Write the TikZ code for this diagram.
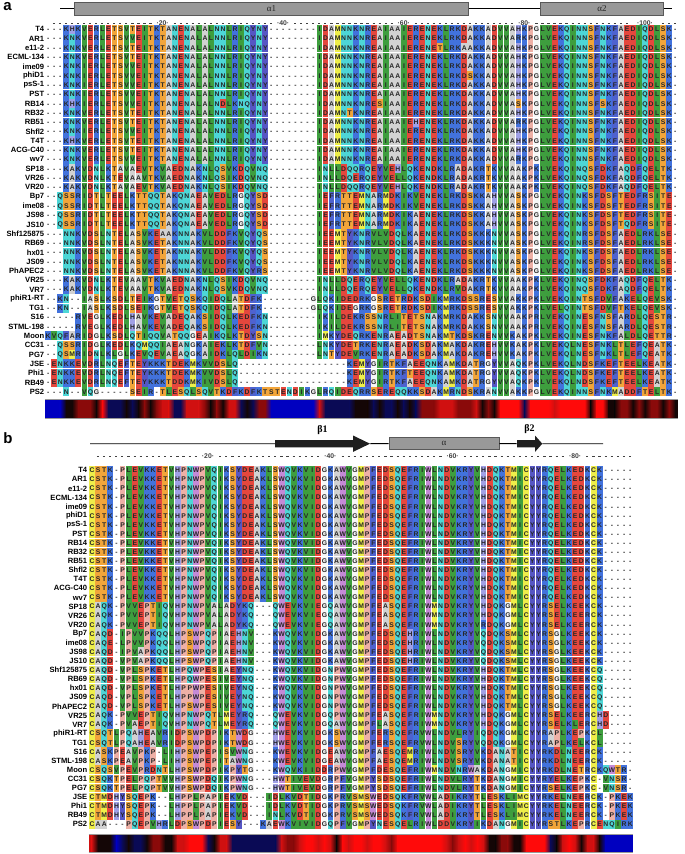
\documentclass[tikz,border=0pt]{standalone}
\usepackage{fontspec}
\setmainfont{Liberation Sans}
\newfontfamily\grkfont{Liberation Serif}
\usetikzlibrary{positioning}

\definecolor{resA}{HTML}{D2D2D2}
\definecolor{resC}{HTML}{EEEE4A}
\definecolor{resD}{HTML}{E5473D}
\definecolor{resE}{HTML}{E5473D}
\definecolor{resF}{HTML}{4E62CF}
\definecolor{resG}{HTML}{F6F6F6}
\definecolor{resH}{HTML}{A0A0E6}
\definecolor{resI}{HTML}{3E9E3E}
\definecolor{resK}{HTML}{4272DC}
\definecolor{resL}{HTML}{3E9E3E}
\definecolor{resM}{HTML}{EEEE4A}
\definecolor{resN}{HTML}{4DD6D6}
\definecolor{resP}{HTML}{EEB0A6}
\definecolor{resQ}{HTML}{4DD6D6}
\definecolor{resR}{HTML}{4272DC}
\definecolor{resS}{HTML}{F2A53A}
\definecolor{resT}{HTML}{F2A53A}
\definecolor{resV}{HTML}{3E9E3E}
\definecolor{resW}{HTML}{C48AD6}
\definecolor{resY}{HTML}{5656C4}
\definecolor{cvB}{HTML}{0000C0}
\definecolor{cvb}{HTML}{0A0A55}
\definecolor{cvk}{HTML}{140606}
\definecolor{cvd}{HTML}{8A0A0A}
\definecolor{cvr}{HTML}{D01010}
\definecolor{cvR}{HTML}{FF0A0A}

\tikzset{
  seqname/.style={anchor=east,inner sep=0pt,font=\fontsize{7.6}{8}\selectfont\bfseries},
  resline/.style={anchor=base west,inner sep=0pt,font=\fontsize{6.8}{7}\selectfont\bfseries,text=black!85},
  rulerdash/.style={black!75,line width=0.6pt},
  rulenum/.style={inner sep=0pt,font=\fontsize{6.8}{7}\selectfont\bfseries,text=black!75},
  barrule/.style={black!40,line width=0.7pt},
  ssline/.style={black,line width=0.9pt},
  helix/.style={draw=black!65,fill=black!40,line width=0.6pt,minimum height=12.5pt,inner sep=0pt,font=\grkfont\fontsize{9}{9}\selectfont,text=black!85},
  strand/.style={fill=black!88},
  strandlabel/.style={inner sep=0pt,font=\grkfont\fontsize{10}{10}\selectfont\bfseries},
  panelletter/.style={inner sep=0pt,font=\fontsize{15}{15}\selectfont\bfseries}
}

\newdimen\cw
\newdimen\resht
\newdimen\resdp
\makeatletter
\newcommand\resboxes[1]{%
  \rlap{\kern0.15pt\@tfor\res@ch:=#1\do{\if-\res@ch\kern\cw\else{\color{res\res@ch}\vrule width\dimexpr\cw-0.3pt\relax height\resht depth\resdp}\kern0.3pt\fi}}%
  \@tfor\res@ch:=#1\do{\hbox to\cw{\hss\res@ch\hss}}}
\makeatother
\newcommand\seqrow[4]{%
  \node[seqname] (#1#2) at ({\colzero-\nameskip},{\rowzero+(#2-1)*\rowpitch}) {#3};
  \node[resline] at ({\colzero-0.5*\colpitch},{\rowzero+(#2-1)*\rowpitch+2.45}) {\resboxes{#4}};}

\newcommand\seqruler[2]{%
  \foreach \c in {1,...,#2}{%
    \pgfmathtruncatemacro\m{mod(\c,20)}%
    \pgfmathtruncatemacro\h{abs(\c-100)}%
    \ifnum\m>1 \ifnum\m<19 \ifnum\h>2
      \draw[rulerdash] ({\colzero+(\c-1)*\colpitch-1.1},#1) -- ++(2.2,0);
    \fi\fi\fi}%
  \foreach \n in {20,40,...,#2}
    \node[rulenum] at ({\colzero+(\n-1)*\colpitch},#1) {·\n·};}

\newcommand\consbar[3]{%
  \foreach \v [count=\c, remember=\v as \lastv (initially B)] in {#3}{%
    \ifnum\c=1
      \fill[cv\v] ({\colzero-0.5*\colpitch},#1) rectangle ({\colzero+0.1},#2);
    \else
      \shade[left color=cv\lastv,right color=cv\v] ({\colzero+(\c-2)*\colpitch-0.1},#1) rectangle ({\colzero+(\c-1)*\colpitch+0.1},#2);
    \fi
    \xdef\conslast{\v}\xdef\conscount{\c}}%
  \fill[cv\conslast] ({\colzero+(\conscount-1)*\colpitch-0.1},#1) rectangle ({\colzero+(\conscount-0.5)*\colpitch},#2);
  \draw[barrule] ({\colzero-0.5*\colpitch},#1) -- ({\colzero+(\conscount-0.5)*\colpitch},#1);
  \draw[barrule] ({\colzero-0.5*\colpitch},#2) -- ({\colzero+(\conscount-0.5)*\colpitch},#2);}

\newcommand\strandpath[3]{\fill[strand] (#1) ++(0,-3.6) -- ++(#2,0) -- ++(0,-4.6) -- ++(#3,8.2) -- ++(-#3,8.2) -- ++(0,-4.6) -- ++(-#2,0) -- cycle;}

\begin{document}
\begin{tikzpicture}[x=1pt,y=-1pt]
  \fill[white] (0,0) rectangle (685,854);
  \useasboundingbox (0,0) rectangle (685,854);

  % panel a
  \node[panelletter] (pa) at (7.5,7) {a};
  \coordinate (sa0) at (60,8.6);
  \coordinate (sa1) at (672,8.6);
  \node[helix,minimum width=394] (alpha1) at (271.5,8.6) {α1};
  \node[helix,minimum width=123] (alpha2) at (602,8.6) {α2};
  \draw[ssline] (sa0) -- (alpha1) (alpha1) -- (alpha2) (alpha2) -- (sa1);

  \def\colzero{48}\def\colpitch{6.03}\def\rowzero{29.2}\def\rowpitch{9.295}\def\nameskip{3.6}
  \cw=6.03pt \resht=6.95pt \resdp=2.05pt
  \seqruler{23.3}{105}
  \seqrow{a}{1}{T4}{---KHKVERLETSVTEITKTANENALALNNLRIQYNY--------IDAMNNKNREAIAAIERENEKLRKDAKKADVVAHKPGLVEKQINNSFNKFAEDIQDLSK-}
  \seqrow{a}{2}{AR1}{---KNKVERLETSVVEITKTANENALALNNLRIQYNY--------IDAMNNKNREAIAAIERENEKLRKDAKKADVVARKPGLVEKQINNSFNKFAEDIQDLSK-}
  \seqrow{a}{3}{e11-2}{---KNKVERLETSVTEITKTANENALALNNLRIQYNY--------IDAMNNKNREAIAAIERENETLRKAAKKADVVAHKPGLVEKQINNSFNKFAEDIQDLSK-}
  \seqrow{a}{4}{ECML-134}{---KNKVERLETSVTEITKTANENALALNNLRIQYNY--------IDAMNNKNREAIAAIERENEKLRKDAKKADVVAHKPGLVEKQINNSFNKFAEDIQDLSK-}
  \seqrow{a}{5}{ime09}{---KNKIERLETSVVEITKTANENALALNNLRIQYNY--------IDAMNNKNREAIAAIERENEKLRKDAKKADVVAHKPGLVEKQINNSFNKFAEDIQDLSK-}
  \seqrow{a}{6}{phiD1}{---KNKIERLETSVVEITKTANENALALNNLRIQYNY--------IDAMNNKNREAIAAIERENEKLRKDSKKADVVAHKPGLVEKQINNSFNKFAEDIQDLSK-}
  \seqrow{a}{7}{psS-1}{---KNKIERLETSVVEITKTANENALALNNLRIQYNY--------IDAMNNKNREAIAAIERENEKLRKDAKKADVVAHKPGLVEKQINNSFNKFAEDIQDLSK-}
  \seqrow{a}{8}{PST}{---KNKIERLETSVVEITKTANENALALNNLRIQYNY--------IDAMNNKNREAIAAIERENEKLRKDAKKADVVAHKPGLVEKQINNSFNKFAEDIQDLSK-}
  \seqrow{a}{9}{RB14}{---KHKIERLETSVVEITKTANENALALNDLKNQYNY--------IDAMNNKNRESIAAIERENEKLRKDAKKADVVASKPGLVEKQINNSFSKFAEDIQDLSK-}
  \seqrow{a}{10}{RB32}{---KNKVERLETSVTEITKTANENALALNNLRIQYNY--------IDAMNTKNREAIAAIERENEKLRKDAKKADVVAHKPGLVEKQINNSFNKFAEDIQDLSK-}
  \seqrow{a}{11}{RB51}{---KNKVERLETSVTEITKTANENALALNNLRIQYNY--------IDAMNNKNREAIAAIEHENEKLRKDAKKADVVARKPGLVEKQINNSFNKFAEDIQDLSK-}
  \seqrow{a}{12}{Shfl2}{---KNKIERLETSVVEITKTANENALALNNLRIQYNY--------IDAMNNKNREAIAAIERENEKLRKDAKKADVVAHKPGLVEKQINNSFNKFAEDIQDLSK-}
  \seqrow{a}{13}{T4T}{---KHKVERLETSVTEITKTANENALALNNLRIQYNY--------IDAMNNKNREAIAAIERENEKLRKDAKKADVVAHKPGLVEKQINNSFNKFAEDIQDLSK-}
  \seqrow{a}{14}{ACG-C40}{---KNKVERLETSVTEITKTANENALALNNLRIQYNY--------IDAMNNKNREAIAAIERENEKLRKDAKKADVVAHKPGLVEKQINNSFNKFAEDIQDLSK-}
  \seqrow{a}{15}{wv7}{---KNKVERLETSVVEITKTANENALALNNLRIQYNY--------IDAMNNKNREAIAAIERENEKLRKDAKKADVVARKPGLVEKQINNSFNKFAEDIQDLSK-}
  \seqrow{a}{16}{SP18}{---KAKVDNLKTAVAEVTKVAEDNAKNLQSVKDQVNQ--------INLLDQQRQEYVEHLQKENDKLRADAKRTKVVAAKPKLVEKQINQSFDKFAQDFQELTK-}
  \seqrow{a}{17}{VR26}{---KAKVDNLKTEVAAVTKVAEDNAKNLQSIKDQVNQ--------INLLDQERQEYVELLQKENDKLRADAKRTKVVAAKPKLVEKQINQSFDKFAQDFQELTK-}
  \seqrow{a}{18}{VR20}{---KAKVDNLKTAVAEVTKVAEDNAKNLQSIKDQVNQ--------INLLDQQRQEYVEHLQKENDKLRADAKRTKVVAAKPKLVEKQINQSFDKFAQDFQELTK-}
  \seqrow{a}{19}{Bp7}{--QSSRIDTLTEELKTTQQTAKQNAEAVEDLRGQYSD--------IEFRTTEMNARMDKIKVENEKLRKDSKKAHVVASKPGLVEKQINKSFDSFTEDFRSITE-}
  \seqrow{a}{20}{ime08}{--QSSRIDTLTEELKTTQQTAKQNAEAVEDLRGQYSD--------IEFRTTEMNARMDKIKVENEKLRKDSKKAHVVASKPGLVEKQINKSFDSFTEDFRSITE-}
  \seqrow{a}{21}{JS98}{--QSSRIDTLTEELKTTQQTAKQNAEAVEDLRGQYSD--------IEFRTTEMNARMDKIKAENEKLRKDSKKAHVVASKPGLVEKQINKSFDSFTEDFRSITE-}
  \seqrow{a}{22}{JS10}{--QSSRIDTLTEELKTTQQTAKQNAEAVEDLRGQYSD--------IEFRTTEMNARMDKIKAENEKLRKDSKKAHVVASKPGLVEKQINKSFDSFTQDFRSITE-}
  \seqrow{a}{23}{Shf125875}{---NNKVDSLNTELASVKEAAKNNAKVLDDFKVQYQS--------IEEMTYKNRVLVDQLKAENEKLRKDSKKKNVVASKPGLVEKQINRSFDSFAEDLRKLSE-}
  \seqrow{a}{24}{RB69}{---NNKVDSLNTELASVKETAKNNAKVLDDFKVQYQS--------IEEMTYKNRVLVDQLKAENEKLRKDSKKKNVVASKPGLVEKQINRSFDSFAEDLRKLSE-}
  \seqrow{a}{25}{hx01}{---NNKVDSLNTELASVKETAKNNAKVLDDFKVQYQS--------IEEMTYKNRVLVDQLKAENEKLRKDSKKKNVVASKPGLVEKQINKSFDSFAEDLRKLSE-}
  \seqrow{a}{26}{JS09}{---NNKVDSLNTELASVKETAKNNAKVLDDFKVQYQS--------IEEMTYKNRVLVDQLKAENEKLRKDSKKKNVVASKPGLVEKQINKSFDSFAEDLRKLSE-}
  \seqrow{a}{27}{PhAPEC2}{---NNKVDSLNTELASVKETAKNNAKVLDDFKVQYRS--------IEEMTYKNRVLVDQLKAENEKLRKDSKKKNVVASKPGLVEKQINKSFDSFAEDLRKLSE-}
  \seqrow{a}{28}{VR25}{---KAKVDNLKTEVAAVTKVAEDNAKNLQSIKDQVNQ--------INLLDQERQEYVELLQKENDKLRADAKRTKVVAAKPKLVEKQINQSFDKFAQDFQELTK-}
  \seqrow{a}{29}{VR7}{---KAKVDNLKTEVAAVTKVAEDNAKNLQSVKDQVNQ--------INLLDQERQEYVELLQKENDKLRVDAKRTKVVAAKPKLVEKQINQSFDKFAQDFQELTK-}
  \seqrow{a}{30}{phiR1-RT}{--KN--IASLKSDLTEIKGTVETQSKQIDQLATDFK--------GLQKIDEDRKGSRETRDKSDIKMRKDSSRESVVAKKPKLVEKQINTSFDVFAKELQEVSK-}
  \seqrow{a}{31}{TG1}{--KN--IASLKSDLSEIKGTVETQSKQIDQLATDFK--------GLQKIDEGRKGSRETRDKSDIKMRKDSSRESVVAKKPKLVELQINTSFDVFTKELQEVSK-}
  \seqrow{a}{32}{S16}{-----RVEGLKEDLHAVKEVADEQAKSIDQLKEDFKN--------IKILDEKRSSNRLITETSNAKMRKDAKKSNVVAAKPRLVEKQINESFNSFARDLQESTR-}
  \seqrow{a}{33}{STML-198}{-----RVEGLKEDLHAVKEVADEQAKSIDQLKEDFKN--------IKILDEKRSSNRLITETSNAKMRKDAKKSNVVAAKPRLVEKQINESFNSFARDLQESTR-}
  \seqrow{a}{34}{Moon}{KVQFARIDGLKSDLQTIQQVATQQGEAIKQLKTDYSN--------IMKYDEQRKENRAEADTSNAKMTKDSKRENVVKAKPKLVEKQINESFNKFALDLQETTR-}
  \seqrow{a}{35}{CC31}{--QSSRIDGLKEDLKQMQQIAEANGKAIEKLKTDFVN--------LNKYDETRKENRAEADKSDAKMAKDAKREHVVKAKPKLVEKQLNESFNKLTLEFQEATK-}
  \seqrow{a}{36}{PG7}{--QSMRIDNLKLGLKEVQEVAEAQGKAIDKLQLDIKN--------LNTYDEVRKENRAEADKSDAKMAKDAKREHVVKAKPKLVEKQLNESFNKLTLEFQEATK-}
  \seqrow{a}{37}{JSE}{-ENKKEVDRLNQEFTEYKKKTDEKMKVVDSLQ------------------KEMYGIRTKFAEEQNKAMKDATRGYVVAQKPKLVEKQLNDSFKEFTEELKEATK-}
  \seqrow{a}{38}{Phi1}{-ENKKEVDRLNQEFTEYKKKTDEKMKVVDSLQ------------------KEMYGIRTKFTEEQNKAMKDATRGYVVAQKPKLVEKQLNDSFKEFTEELKEATK-}
  \seqrow{a}{39}{RB49}{-ENKKEVDRLNQEFTEYKKKTDDKMKIVDSLQ------------------KEMYGIRTKFAEEQNKAMKDATRGYVVAQKPKLVEKQLNDSFKEFTEELKEATK-}
  \seqrow{a}{40}{PS2}{---N--VQG-----SEIR-TLESQLSQVTKDFKDFKTSTENDIKGLRQIDEQRRSEREQQKKSDAKMRNDSKRANVVAKKPGLVEKQINNSFNKMADDFTELTK-}
  \consbar{399.3}{418}{B,B,B,k,k,d,d,d,k,R,b,b,b,k,b,k,d,k,d,r,r,b,b,r,r,r,d,k,d,k,r,r,b,k,b,d,d,B,B,B,B,B,B,B,B,r,b,b,b,b,b,k,k,k,b,k,b,b,k,b,k,b,d,d,d,r,r,r,d,d,d,r,k,d,k,R,R,R,R,b,R,R,R,R,r,R,R,R,R,R,k,R,R,k,k,d,d,k,d,k,d,d,k,d,k}

  % panel b
  \node[panelletter] (pb) at (8,438) {b};
  \coordinate (sb0) at (90,443.7);
  \coordinate (b1tail) at (275,443.7);
  \coordinate (b1tip) at (370,443.7);
  \strandpath{b1tail}{78}{17}
  \coordinate (b1top) at (322.5,435.5);
  \node[strandlabel,above=0.3pt of b1top] (b1lab) {β1};
  \node[helix,minimum width=110] (alphab) at (444,443.3) {α};
  \coordinate (b2tail) at (517,443.7);
  \coordinate (b2tip) at (542.3,443.7);
  \strandpath{b2tail}{18}{7.3}
  \coordinate (b2top) at (529.6,435.5);
  \node[strandlabel,above=1.2pt of b2top] (b2lab) {β2};
  \coordinate (sb1) at (603,443.7);
  \draw[ssline] (sb0) -- (b1tail) (b1tip) -- (alphab) (alphab) -- (b2tail) (b2tip) -- (sb1);

  \def\colzero{91.8}\def\colpitch{6.117}\def\rowzero{470.3}\def\rowpitch{9.077}\def\nameskip{4.4}
  \cw=6.117pt \resht=6.84pt \resdp=1.94pt
  \seqruler{456}{89}
  \seqrow{b}{1}{T4}{CSTK-PLEVKKETVHPNWPVQIKSYDEAKLSWQVKVIDGKAWVGMPFEDSQEFRIWLNDVKRYVHDQKTMICYYRQELKEDKCK-----}
  \seqrow{b}{2}{AR1}{CSTK-PLEVKKETVHPNWPVQIKSYDEAKLSWQVKVIDGKAWVGMPFEDSQEFRIWLNDVKRYVHDQKTMICYYRQELKEDKCK-----}
  \seqrow{b}{3}{e11-2}{CSTK-PLEVKKETVHPNWPVQIKSYDEAKLSWQVKVIDGKAWVGMPFEDSQEFRIWLNDVKRYVHDQKTMICYYRQELKEDKCK-----}
  \seqrow{b}{4}{ECML-134}{CSTK-PLEVKKETVHPNWPVQIKSYDEAKLSWQVKVIDGKAWVGMPFEDSQEFRIWLNDVKRYVHDQKTMICYYRQELKEDKCK-----}
  \seqrow{b}{5}{ime09}{CSTK-PLEVKKETVHPNWPVQIKSYDEAKLSWQVKVIDGKAWVGMPFEDSQEFRIWLNDVKRYVHDQKTMICYYRQELKEDKCK-----}
  \seqrow{b}{6}{phiD1}{CSTK-PLEVKKETVHPNWPVQIKSYDEAKLSWQVKVIDGKAWVGMPFEDSQEFRIWLNDVKRYVHDQKTMICYYRQELKEDKCK-----}
  \seqrow{b}{7}{psS-1}{CSTK-PLEVKKETVHPNWPVQIKSYDEAKLSWQVKVIDGKAWVGMPFEDSQEFRIWLNDVKRYVHDQKTMICYYRQELKEDKCK-----}
  \seqrow{b}{8}{PST}{CSTK-PLEVKKETVHPNWPVQIKSYDEAKLSWQVKVIDGKAWVGMPFEDSQEFRIWLNDVKRYVHDQKTMICYYRQELKEDKCK-----}
  \seqrow{b}{9}{RB14}{CSTK-PLEVKKETVHPNWPVQIKSYDEAKLSWQVKVIDGKAWVGMPFEDSQEFRIWLNDVKRYVHDQKTMICYYRQELKEDKCK-----}
  \seqrow{b}{10}{RB32}{CSTK-PLEVKKETVHPNWPVQIKSYDEAKLSWQVKVIDGKAWVGMPFEDSQEFRIWLNDVKRYVHDQKTMICYYRQELKEDKCK-----}
  \seqrow{b}{11}{RB51}{CSTK-PLEVKKETVHPNWPVQIKSYDEAKLSWQVKVIDGKAWVGMPFEDSQEFRIWLNDVKRYVHDQKTMICYYRQELKEDKCK-----}
  \seqrow{b}{12}{Shfl2}{CSTK-PLEVKKETVHPNWPVQIKSYDEAKLSWQVKVIDGKAWVGMPFEDSQEFRIWLNDVKRYVHDQKTMICYYRQELKEDKCK-----}
  \seqrow{b}{13}{T4T}{CSTK-PLEVKKETVHPNWPVQIKSYDEAKLSWQVKVIDGKAWVGMPFEDSQEFRIWLNDVKRYVHDQKTMICYYRQELKEDKCK-----}
  \seqrow{b}{14}{ACG-C40}{CSTK-PLEVKKETVHPNWPVQIKSYDEAKLSWQVKVIDGKAWVGMPFEDSQEFRIWLNDVKRYVHDQKTMICYYRQELKEDKCK-----}
  \seqrow{b}{15}{wv7}{CSTK-PLEVKKETVHPNWPVQIKSYDEAKLSWQVKVIDGKAWVGMPFEDSQEFRIWLNDVKRYVHDQKTMICYYRQELKEDKCK-----}
  \seqrow{b}{16}{SP18}{CAQK-PVVEPTIQVHPNWPVALADYKQ---QWEVKVIEGQAWVGMPFEASQEFRIWMNDVKRYVHDQKGMLCYYRSELKEEKCK-----}
  \seqrow{b}{17}{VR26}{CAQK-PVVEPTIQVHPNWPVALADYKQ---QWEVKVIEGQAWVGMPFEASQEFRIWMNDVKRYVHDQKGMLCYYRSELKEERCK-----}
  \seqrow{b}{18}{VR20}{CAQK-PVVEPTIQVHPNWPVALADYKQ---QWEVKVIEGQAWVGMPFEASQEFRIWMNDVKRYVRDQKGMLCYYRSELKEERCK-----}
  \seqrow{b}{19}{Bp7}{CAQD-IPVVPKQQLHPSWPQPIAEHNV---KWQVKVIDGKAWVGMPFEDSQEHRIWLNDVKRYVQDQKSMLCYYRSGLKEEKCK-----}
  \seqrow{b}{20}{ime08}{CAQE-LPVVPKQQLHPSWPQPIAEHNV---KWQVKVIDGKAWVGMPFEDSQEHRIWLNDVKRYVQDQKSMLCYYRSGLKEEKCK-----}
  \seqrow{b}{21}{JS98}{CAQD-IPVAPKQQLHPSWPQPIAEHNV---KWQVKVIDGKAWVGMPFEDSQEHRIWLNDVKRYVQDQKSMLCYYRSGLKEEKCK-----}
  \seqrow{b}{22}{JS10}{CAQD-VPVAPKQQLHPSWPQPIAEHNV---KWQVKVIDGKAWVGMPFEDSQEHRIWLNDVKRYVQDQKSMLCYYRSGLKEEKCK-----}
  \seqrow{b}{23}{Shf125875}{CAQD-VPLSPKETLHPQWPESIAEYNQ---KWQVKVIDGNPWVGMPFEDSQEFRIWLNDVKRYVHDQKTMLCYYRSGLKEEKCQ-----}
  \seqrow{b}{24}{RB69}{CAQD-VPLSPKETLHPQWPESIVEYNQ---KWQVKVIDGNPWVGMPFEDSQEFRIWLNDVKRYVHDQKTMLCYYRSGLKEEKCQ-----}
  \seqrow{b}{25}{hx01}{CAQD-VPLSPKETLHPPWPESIVEYNQ---KWQVKVIDGNPWVGMPFEDSQEFRIWLNDVKRYVHDQKTMICYYRSGLKEEKCQ-----}
  \seqrow{b}{26}{JS09}{CAQD-VPLSPKETLHPPWPESIVEYNQ---KWQVKVIDGNPWVGMPFEDSQEFRIWLNDVKRYVHDQKTMLCYYRSGLKEEKCQ-----}
  \seqrow{b}{27}{PhAPEC2}{CAQD-VPLSPKETLHPSWPESIVEYNQ---KWQVKVIDGNPWVGMPFEDSQEFRIWLNDVKRYVHDQKTMLCYYRSGLKEEKCQ-----}
  \seqrow{b}{28}{VR25}{CAQK-PVVEPTIQVHPNWPQTLMEYRQ---QWEVKVIDGQPWVGMPFEASQEFRIWMNDVKRYVHDQKGMLCYYRSELKEERCHD----}
  \seqrow{b}{29}{VR7}{CAQK-PVAEPTIQVHPNWPQTLMEYRQ---QWEVKVIDGQAWVGMPFLASQEFRIWMNDVKRYVHDQKGMLCYYRSELKLERCHD----}
  \seqrow{b}{30}{phiR1-RT}{CSQTLPQAHEAVRIDPSWPDPIKTWDG---HWEVKVIDGKSWVGMPFERSQEFRVWLNDVLRYIQDQKGMLCYYRAPLKEPKCL-----}
  \seqrow{b}{31}{TG1}{CSQTLPQAHEAVRIDPSWPDPIKTWDG---HWEVKVIDGKSWVGMPFERSQEFRVWLNDVSRYVQDQKGMLCYYRAPLKELKCL-----}
  \seqrow{b}{32}{S16}{CASKPEAVPKP-LIHPSWPEPISVWNG---KWEVKVIDGEAWVGMPFAESQEMRIWLNDVSRYVKDANATICYYRKDLNEERCK-----}
  \seqrow{b}{33}{STML-198}{CASKPEAVPKP-LIHPSWPEPITAWNG---KWEVKVIDGEAWVGMPFAESQEMRIWLNDVSRYVKDANATICYYRKDLNEERCK-----}
  \seqrow{b}{34}{Moon}{CSQSVPEVPRDNTLHPSWPDPIKPYTG---KWQVKIIDDRPWVGMPFDESQEFRIWMNDVNRWAKDANGMICYYRKDLNETRCKQWTR-}
  \seqrow{b}{35}{CC31}{CSQKTPELPQPTVVHPSWPDQIKPWNG---HWTIVEVDGRPFVGMPYSDSQEFRIWLNDVLRYTKDANGMICYYRYELKEPKC-VNSR-}
  \seqrow{b}{36}{PG7}{CSQKTPELPQPTVVHPSWPDQIKPWNG---HWTIVEVDGRPFVGMPYSDSQEFRIWLNDVLRYTKDANGMICYYRSELKEPKC-VNSR-}
  \seqrow{b}{37}{JSE}{CTMDHYSQEPK--LHPPLPAPIEKVD---IDLKVDTIDGKPRVSMSWEDSQKFRVWLADIKRYTLESKLIMCYYRKELNEERCK-PKEK}
  \seqrow{b}{38}{Phi1}{CTMDHYSQEPK--LHPPLPAPIEKVD---IDLKVDTIDGKPRVSMSWEDSQKFRVWLADIKRYTLESKLIMCYYRKELNEERCK-PKEK}
  \seqrow{b}{39}{RB49}{CTMDHYSQEPK--LHPPLPAPIEKVD---INLKVDTIDGKPRVSMSWEDSQKFRVWLADIKRYTLESKLIMCYYRKELNEERCK-PKEK}
  \seqrow{b}{40}{PS2}{CAA---PQEPVHRLDPSWPDPIESY---KAEWKVIVIDGQPFVGMPYNESQELRIWLDDVKRYIKDANGMICYYRSTLKEPRCENQIRK}
  \consbar{834}{852}{r,k,k,k,B,b,k,b,b,k,d,d,k,k,r,r,R,R,R,b,k,r,r,b,b,b,b,b,b,b,b,r,d,d,r,R,R,r,R,r,k,R,r,R,R,r,R,R,r,d,R,R,R,R,R,R,R,R,r,d,r,R,r,R,r,k,k,d,d,k,k,R,R,R,R,b,k,r,R,r,k,r,r,k,B,B,B,B,B}
\end{tikzpicture}
\end{document}
